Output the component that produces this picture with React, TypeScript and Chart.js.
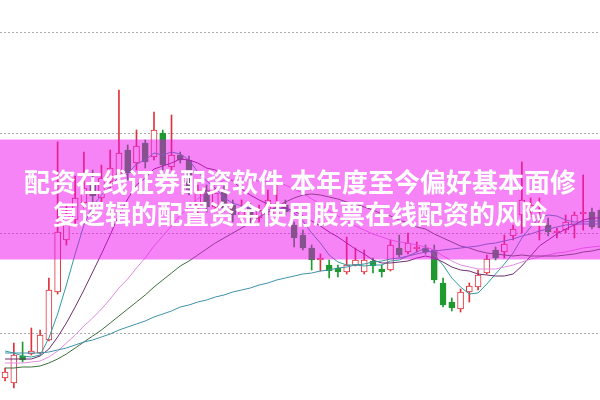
import React, { useEffect, useRef } from "react";
import { Chart, registerables } from "chart.js";

Chart.register(...registerables);

// trading-day index (the last one is half cut off at the right edge)
const DAYS: number[] = [
  0, 1, 2, 3, 4, 5, 6, 7, 8, 9, 10, 11, 12, 13, 14, 15, 16, 17, 18, 19, 20, 21, 22, 23,
  24, 25, 26, 27, 28, 29, 30, 31, 32, 33, 34, 35, 36, 37, 38, 39, 40, 41, 42, 43, 44, 45,
  46, 47, 48, 49, 50, 51, 52, 53, 54, 55, 56, 57, 58, 59, 60, 61, 62, 63, 64, 65, 66, 67, 68,
];

const OPEN: number[] = [
  5.5, 5.0, 7.7, 7.9, 8.0, 9.3, 14.1, 19.3, 21.3, 23.0,
  24.8, 23.5, 25.1, 25.8, 28.3, 27.0, 29.0, 27.6, 30.0, 26.6,
  27.8, 27.3, 22.8, 24.3, 22.6, 24.1, 22.8, 21.5, 22.5, 21.5,
  22.1, 21.8, 22.8, 20.8, 19.8, 18.5, 17.3, 16.8, 16.5, 16.1,
  16.8, 16.1, 17.2, 16.4, 16.3, 18.5, 18.1, 18.4, 18.5, 18.3,
  15.0, 13.1, 12.4, 14.1, 14.6, 16.0, 18.3, 18.1, 19.7, 21.8,
  22.3, 22.1, 20.8, 20.0, 20.3, 20.8, 21.9, 22.1, 22.3,
];
const HIGH: number[] = [
  6.5, 9.0, 9.1, 10.5, 10.3, 15.5, 29.1, 22.8, 25.7, 28.1,
  26.3, 26.8, 28.3, 34.3, 28.8, 30.3, 29.3, 32.1, 30.3, 31.8,
  28.1, 27.7, 24.8, 24.8, 24.5, 24.7, 23.3, 23.3, 23.0, 22.8,
  24.3, 24.8, 23.3, 21.1, 20.3, 18.8, 17.9, 17.3, 16.8, 19.6,
  18.5, 18.3, 17.5, 16.8, 19.3, 19.8, 20.0, 19.1, 18.8, 18.8,
  15.5, 13.5, 14.4, 15.0, 16.3, 17.8, 18.6, 19.8, 20.8, 27.1,
  23.5, 23.5, 21.5, 20.5, 21.8, 22.1, 25.8, 22.5, 22.6,
];
const LOW: number[] = [
  5.2, 4.5, 7.1, 7.8, 7.9, 9.2, 13.9, 18.8, 20.9, 22.5,
  21.8, 22.8, 24.3, 25.3, 25.3, 26.3, 26.5, 27.3, 26.3, 26.3,
  27.0, 23.8, 21.8, 22.1, 22.3, 22.1, 21.1, 20.8, 20.8, 21.1,
  21.8, 21.5, 21.8, 18.6, 18.3, 16.3, 16.2, 15.5, 15.6, 15.9,
  16.7, 15.9, 16.0, 15.6, 16.2, 17.6, 17.9, 18.1, 17.9, 15.0,
  12.6, 12.2, 12.1, 13.1, 14.3, 15.9, 17.3, 17.5, 19.3, 20.0,
  21.6, 19.3, 19.7, 19.5, 20.0, 19.5, 20.3, 20.4, 20.3,
];
const CLOSE: number[] = [
  6.1, 7.8, 7.3, 8.2, 9.8, 14.3, 20.1, 21.8, 23.5, 24.5,
  23.7, 25.5, 26.5, 28.0, 26.0, 28.7, 27.1, 30.3, 26.8, 27.8,
  27.3, 24.3, 24.1, 22.6, 24.0, 22.5, 21.8, 22.5, 21.5, 22.3,
  23.3, 22.8, 22.1, 19.5, 18.5, 17.3, 17.5, 16.2, 16.1, 16.8,
  17.3, 17.3, 16.7, 16.1, 18.8, 17.8, 19.0, 18.6, 18.1, 15.3,
  12.8, 12.5, 14.1, 14.7, 15.8, 17.4, 17.5, 18.9, 20.4, 23.3,
  22.8, 22.3, 20.1, 20.2, 21.1, 21.8, 22.1, 20.6, 20.5,
];

const MA5: number[] = [
  8.2, 8.0, 7.7, 7.6, 7.8, 9.5, 11.9, 14.8, 17.9, 20.8,
  22.7, 23.8, 24.7, 25.6, 25.9, 26.9, 27.3, 28.0, 27.8, 28.1,
  27.9, 27.3, 26.1, 25.2, 24.5, 23.5, 23.0, 22.7, 22.5, 22.1,
  22.3, 22.5, 22.4, 22.0, 21.2, 20.0, 19.0, 17.8, 17.1, 16.8,
  16.8, 16.7, 16.8, 16.8, 17.2, 17.3, 17.7, 18.1, 18.5, 17.8,
  16.8, 15.5, 14.6, 13.9, 14.0, 14.9, 15.9, 16.9, 18.0, 19.5,
  20.6, 21.5, 21.8, 21.7, 21.3, 21.1, 21.1, 21.2, 21.2,
];
const MA10: number[] = [
  7.4, 7.4, 7.4, 7.4, 7.7, 8.4, 9.6, 11.0, 12.6, 14.3,
  16.1, 17.9, 19.8, 21.8, 23.4, 24.8, 25.5, 26.4, 26.7, 27.0,
  27.4, 27.3, 27.0, 26.5, 26.3, 25.7, 25.2, 24.4, 23.8, 23.3,
  22.9, 22.7, 22.5, 22.2, 21.7, 21.2, 20.7, 20.1, 19.6, 19.0,
  18.4, 17.9, 17.3, 17.0, 17.0, 17.1, 17.2, 17.5, 17.7, 17.5,
  17.1, 16.6, 16.3, 16.2, 15.9, 15.8, 15.7, 15.7, 15.9, 16.7,
  17.7, 18.7, 19.3, 19.9, 20.4, 20.8, 21.3, 21.5, 21.5,
];
const MA20: number[] = [
  7.0, 7.0, 7.0, 7.1, 7.2, 7.6, 8.2, 9.0, 9.8, 10.7,
  11.5, 12.4, 13.4, 14.5, 15.4, 16.5, 17.5, 18.7, 19.7, 20.7,
  21.8, 22.6, 23.4, 24.1, 24.8, 25.3, 25.3, 25.4, 25.3, 25.2,
  25.1, 25.0, 24.8, 24.4, 24.0, 23.4, 22.9, 22.2, 21.7, 21.2,
  20.7, 20.3, 19.9, 19.6, 19.3, 19.1, 19.0, 18.8, 18.6, 18.3,
  17.7, 17.2, 16.8, 16.6, 16.4, 16.4, 16.4, 16.6, 16.8, 17.1,
  17.4, 17.6, 17.8, 18.0, 18.1, 18.3, 18.5, 18.6, 18.7,
];
const MA30: number[] = [
  6.5, 6.5, 6.6, 6.6, 6.7, 7.0, 7.4, 7.9, 8.5, 9.1,
  9.7, 10.3, 11.0, 11.7, 12.4, 13.1, 13.8, 14.6, 15.3, 16.0,
  16.7, 17.2, 17.8, 18.4, 19.0, 19.5, 20.0, 20.5, 21.0, 21.6,
  22.1, 22.6, 23.1, 23.5, 23.8, 23.9, 23.8, 23.6, 23.4, 23.1,
  22.9, 22.6, 22.3, 21.9, 21.7, 21.3, 21.0, 20.6, 20.4, 19.9,
  19.5, 19.1, 18.7, 18.5, 18.2, 18.0, 17.9, 17.8, 17.7, 17.8,
  17.7, 17.7, 17.7, 17.7, 17.8, 17.9, 18.1, 18.2, 18.4,
];
const MA60: number[] = [
  8.0, 8.0, 8.0, 8.0, 8.0, 8.1, 8.3, 8.5, 8.8, 9.1,
  9.3, 9.6, 9.9, 10.3, 10.6, 10.9, 11.2, 11.6, 11.9, 12.2,
  12.6, 12.8, 13.1, 13.3, 13.6, 13.8, 14.1, 14.3, 14.5, 14.8,
  15.0, 15.3, 15.5, 15.7, 15.9, 16.0, 16.2, 16.3, 16.5, 16.6,
  16.8, 16.9, 17.1, 17.2, 17.4, 17.5, 17.7, 17.9, 18.1, 18.2,
  18.3, 18.4, 18.5, 18.6, 18.7, 18.9, 19.0, 19.2, 19.4, 19.7,
  19.9, 20.2, 20.4, 20.6, 20.8, 20.9, 20.9, 20.9, 20.9,
];

const GRID_LEVELS: number[] = [10, 20, 30, 40];
const BANNER_LINES: string[] = [
  "配资在线证券配资软件 本年度至今偏好基本面修",
  "复逻辑的配置资金使用股票在线配资的风险",
];

const UP = "#e0323c";
const DOWN = "#1f9a2f";

const bannerPlugin = {
  id: "banner",
  afterDraw(chart: any) {
    const ctx = chart.ctx as CanvasRenderingContext2D;
    const w = chart.width;
    ctx.save();
    ctx.fillStyle = "rgba(238, 10, 238, 0.5)";
    ctx.fillRect(0, 139.5, w, 120);
    ctx.fillStyle = "#ffffff";
    ctx.font = 'bold 26px "Noto Sans CJK SC", sans-serif';
    ctx.textAlign = "center";
    ctx.textBaseline = "middle";
    ctx.fillText(BANNER_LINES[0], w / 2, 182);
    ctx.fillText(BANNER_LINES[1], w / 2, 214);
    ctx.restore();
  },
};

export default function App() {
  const ref = useRef<HTMLCanvasElement | null>(null);

  useEffect(() => {
    if (!ref.current) return;
    const isUp = DAYS.map((_, k) => CLOSE[k] >= OPEN[k]);
    const lineDs = (label: string, data: number[], color: string) => ({
      type: "line" as const,
      label,
      data: DAYS.map((d, k) => ({ x: d, y: data[k] })),
      borderColor: color,
      borderWidth: 1,
      pointRadius: 0,
      tension: 0,
      fill: false,
      order: 0,
    });
    const chart = new Chart(ref.current, {
      type: "bar",
      data: {
        datasets: [
          lineDs("MA60", MA60, "#3f91a8"),
          lineDs("MA30", MA30, "#3d6e3d"),
          lineDs("MA20", MA20, "#e08ee0"),
          lineDs("MA10", MA10, "#6e2f6e"),
          lineDs("MA5", MA5, "#2e9e9e"),
          {
            type: "bar",
            label: "body",
            data: DAYS.map((d, k) => ({ x: d, y: [OPEN[k], CLOSE[k]] })) as any,
            backgroundColor: isUp.map((u) => (u ? "#ffffff" : DOWN)),
            borderColor: isUp.map((u) => (u ? UP : DOWN)),
            borderWidth: 1,
            borderSkipped: false,
            barThickness: 6,
            grouped: false,
            order: 1,
          },
          {
            type: "bar",
            label: "wick",
            data: DAYS.map((d, k) => ({ x: d, y: [LOW[k], HIGH[k]] })) as any,
            backgroundColor: isUp.map((u) => (u ? UP : DOWN)),
            borderWidth: 0,
            barThickness: 1,
            grouped: false,
            order: 2,
          },
        ] as any,
      },
      options: {
        responsive: false,
        maintainAspectRatio: false,
        animation: false,
        devicePixelRatio: 1,
        layout: { padding: 0 },
        plugins: { legend: { display: false }, tooltip: { enabled: false } },
        scales: {
          x: { type: "linear", offset: false, min: -0.58, max: 67.92, display: false },
          y: {
            min: 3.3,
            max: 43.3,
            afterBuildTicks: (scale: any) => {
              scale.ticks = GRID_LEVELS.map((v) => ({ value: v }));
            },
            ticks: { display: false },
            grid: { color: "#ababab", lineWidth: 1, drawTicks: false, tickLength: 0 },
            border: { display: false, dash: [2, 2] },
          },
        },
      } as any,
      plugins: [bannerPlugin],
    });
    return () => chart.destroy();
  }, []);

  return (
    <div style={{ position: "absolute", left: 0, top: 0, width: 600, height: 400, background: "#fff" }}>
      <canvas ref={ref} width={600} height={400} style={{ width: 600, height: 400, display: "block" }} />
    </div>
  );
}
